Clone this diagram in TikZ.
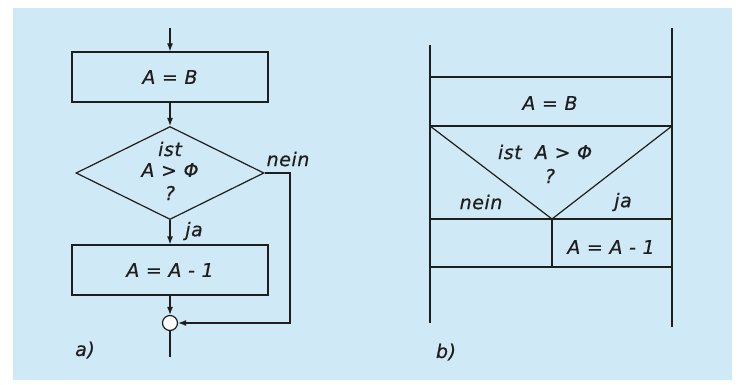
\documentclass[tikz,border=0pt]{standalone}
\usepackage{fontspec}
\setmainfont{DejaVu Sans}[LetterSpace=3,FakeBold=0.5]
\usetikzlibrary{arrows.meta,shapes.geometric}
\definecolor{bg}{RGB}{208,233,247}
\definecolor{ink}{RGB}{30,30,30}
\tikzset{
  ln/.style={draw=ink, line width=1.2pt},
  arr/.style={ln, -{Latex[length=8pt,width=6pt]}},
  box/.style={ln, rectangle, minimum width=196pt, minimum height=50pt, inner sep=0pt, font=\fontsize{19}{22}\selectfont\itshape, text=ink},
  dia/.style={ln, diamond, minimum width=188pt, minimum height=93pt, inner sep=0pt},
  txt/.style={inner sep=0pt, font=\fontsize{19}{22}\selectfont\itshape, text=ink},
}
\begin{document}
\begin{tikzpicture}[x=1pt,y=-1pt]
\fill[white] (0,0) rectangle (739,385);
\useasboundingbox (0,0) rectangle (739,385);
\fill[bg] (13,8) rectangle (732,380);
% ---- a) flowchart
\coordinate (top) at (170,28);
\node[box] (b1) at (170,77) {A = B};
\draw[arr] (top) -- (b1.north);
\node[dia] (d) at (170,173) {};
\node[txt] (q1) at (170,149) {ist};
\node[txt] (q2) at (170,170) {A > Φ};
\node[txt] (q3) at (170,193) {?};
\draw[arr] (b1.south) -- (d.north);
\node[box] (b2) at (170,270) {A = A - 1};
\draw[arr] (d.south) -- (b2.north);
\node[txt] (ja) at (194,231) {ja};
\node[circle, ln, fill=white, minimum size=15pt, inner sep=0pt] (c) at (170,323) {};
\draw[arr] (b2.south) -- (c.north);
\coordinate (nr) at (290,323);
\draw[arr] (d.east) -| (nr) -- (c.east);
\node[txt] (nein) at (288,159) {nein};
\coordinate (bot) at (170,357);
\draw[ln] (c.south) -- (bot);
\node[txt] (la) at (85,350) {a)};
% ---- b) structogram
\coordinate (L0) at (430,45);
\coordinate (L1) at (430,323);
\coordinate (R0) at (672,28);
\coordinate (R1) at (672,327);
\coordinate (h1l) at (430,77);  \coordinate (h1r) at (672,77);
\coordinate (h2l) at (430,126); \coordinate (h2r) at (672,126);
\coordinate (h3l) at (430,219); \coordinate (h3r) at (672,219);
\coordinate (h4l) at (430,267); \coordinate (h4r) at (672,267);
\coordinate (v) at (552,219);
\coordinate (vb) at (552,267);
\draw[ln] (L0) -- (L1);
\draw[ln] (R0) -- (R1);
\draw[ln] (h1l) -- (h1r);
\draw[ln] (h2l) -- (h2r);
\draw[ln] (h3l) -- (h3r);
\draw[ln] (h4l) -- (h4r);
\draw[ln] (h2l) -- (v) -- (h2r);
\draw[ln] (v) -- (vb);
\node[txt] (t1) at (550,103) {A = B};
\node[txt] (t2) at (545,152) {ist\ \ A > Φ};
\node[txt] (t3) at (550,176) {?};
\node[txt] (t4) at (481,202) {nein};
\node[txt] (t5) at (623,202) {ja};
\node[txt] (t6) at (611,247) {A = A - 1};
\node[txt] (lb) at (446,352) {b)};
\end{tikzpicture}
\end{document}
